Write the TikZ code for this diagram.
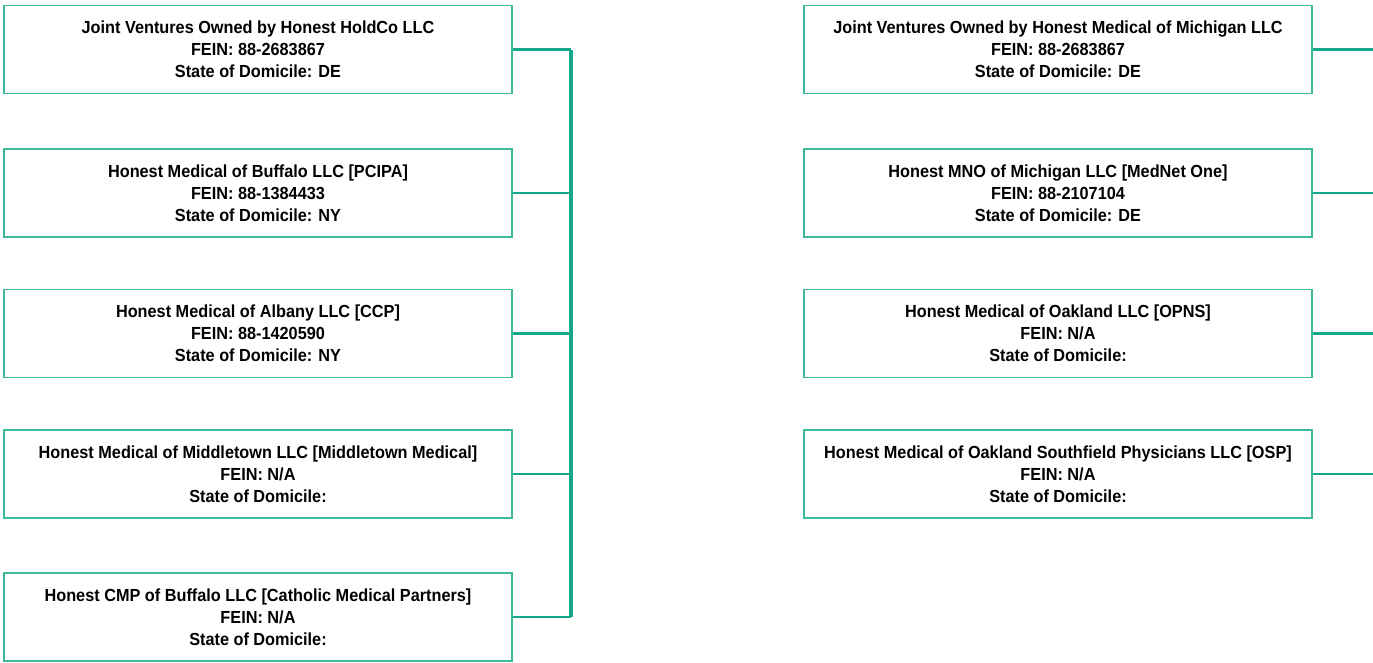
\documentclass[tikz,border=0pt]{standalone}
\usepackage{fontspec}
\setmainfont[FakeStretch=0.93]{Liberation Sans}
\definecolor{boxc}{HTML}{3DB99C}
\definecolor{linec}{HTML}{16A88A}
\begin{document}
\begin{tikzpicture}[x=1pt,y=-1pt,
  entity/.style={draw=boxc, line width=1.6pt, rectangle, minimum width=508pt, minimum height=88pt,
    align=center, inner sep=0pt, font=\bfseries\fontsize{17.5}{22}\selectfont},
  link/.style={draw=linec, line width=2.8pt},
  bus/.style={draw=linec, line width=3.6pt}]
\useasboundingbox (0,0) rectangle (1373,662);
% left column
\node[entity] (l1) at (258,49.5) {Joint Ventures Owned by Honest HoldCo LLC\\FEIN: 88-2683867\\State of Domicile: DE};
\node[entity] (l2) at (258,193) {Honest Medical of Buffalo LLC [PCIPA]\\FEIN: 88-1384433\\State of Domicile: NY};
\node[entity] (l3) at (258,333.5) {Honest Medical of Albany LLC [CCP]\\FEIN: 88-1420590\\State of Domicile: NY};
\node[entity] (l4) at (258,474) {Honest Medical of Middletown LLC [Middletown Medical]\\FEIN: N/A\\State of Domicile:};
\node[entity] (l5) at (258,617) {Honest CMP of Buffalo LLC [Catholic Medical Partners]\\FEIN: N/A\\State of Domicile:};
% right column
\node[entity] (r1) at (1058,49.5) {Joint Ventures Owned by Honest Medical of Michigan LLC\\FEIN: 88-2683867\\State of Domicile: DE};
\node[entity] (r2) at (1058,193) {Honest MNO of Michigan LLC [MedNet One]\\FEIN: 88-2107104\\State of Domicile: DE};
\node[entity] (r3) at (1058,333.5) {Honest Medical of Oakland LLC [OPNS]\\FEIN: N/A\\State of Domicile:};
\node[entity] (r4) at (1058,474) {Honest Medical of Oakland Southfield Physicians LLC [OSP]\\FEIN: N/A\\State of Domicile:};
% bus coordinates
\coordinate (b1) at (571,49.5);
\coordinate (b2) at (571,193);
\coordinate (b3) at (571,333.5);
\coordinate (b4) at (571,474);
\coordinate (b5) at (571,617);
\coordinate (e1) at (1373,49.5);
\coordinate (e2) at (1373,193);
\coordinate (e3) at (1373,333.5);
\coordinate (e4) at (1373,474);
\draw[bus] (b1) -- (b5);
\foreach \i in {1,...,5} { \draw[link] (l\i.east) -- (b\i); }
\foreach \i in {1,...,4} { \draw[link] (r\i.east) -- (e\i); }
\end{tikzpicture}
\end{document}
